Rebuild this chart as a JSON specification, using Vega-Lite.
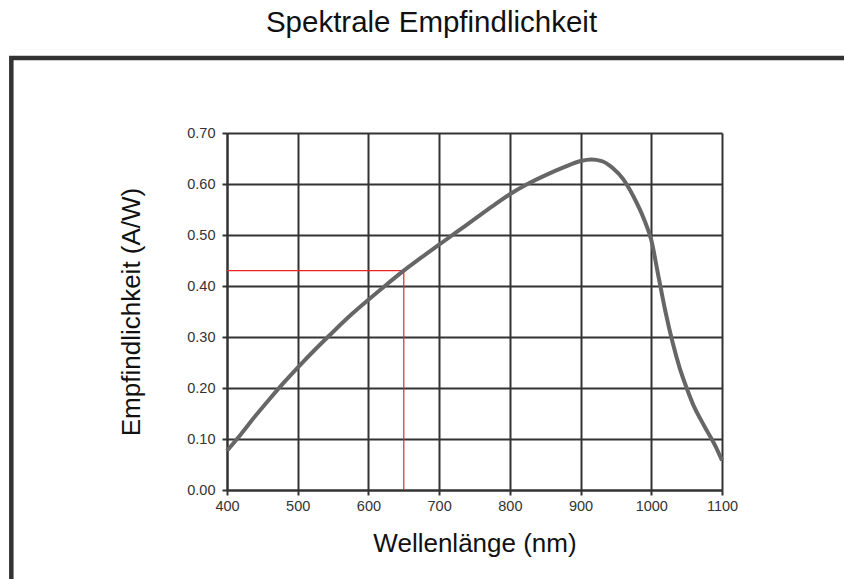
{
  "$schema": "https://vega.github.io/schema/vega-lite/v6.json",
  "width": 495,
  "height": 357,
  "autosize": {"type": "none"},
  "padding": {"left": 227, "top": 133, "right": 122, "bottom": 89},
  "background": "white",
  "title": {
    "text": "Spektrale Empfindlichkeit",
    "font": "Liberation Sans",
    "fontSize": 29.5,
    "fontWeight": "normal",
    "color": "#111111",
    "anchor": "middle",
    "frame": "group",
    "baseline": "alphabetic",
    "offset": -6,
    "dx": -43
  },
  "datasets": {
    "curve": [
      {"wl": 400, "a": 0.077},
      {"wl": 420, "a": 0.11},
      {"wl": 440, "a": 0.145},
      {"wl": 460, "a": 0.178},
      {"wl": 480, "a": 0.21},
      {"wl": 500, "a": 0.24},
      {"wl": 525, "a": 0.276},
      {"wl": 550, "a": 0.31},
      {"wl": 575, "a": 0.343},
      {"wl": 600, "a": 0.373},
      {"wl": 625, "a": 0.402},
      {"wl": 650, "a": 0.43},
      {"wl": 675, "a": 0.456},
      {"wl": 700, "a": 0.481},
      {"wl": 725, "a": 0.506},
      {"wl": 750, "a": 0.531},
      {"wl": 775, "a": 0.556},
      {"wl": 800, "a": 0.58},
      {"wl": 825, "a": 0.6},
      {"wl": 850, "a": 0.617},
      {"wl": 875, "a": 0.632},
      {"wl": 900, "a": 0.645},
      {"wl": 915, "a": 0.648},
      {"wl": 930, "a": 0.645},
      {"wl": 945, "a": 0.632},
      {"wl": 960, "a": 0.61},
      {"wl": 975, "a": 0.575},
      {"wl": 990, "a": 0.53},
      {"wl": 1000, "a": 0.49},
      {"wl": 1010, "a": 0.42},
      {"wl": 1020, "a": 0.35},
      {"wl": 1030, "a": 0.29},
      {"wl": 1040, "a": 0.24},
      {"wl": 1050, "a": 0.2},
      {"wl": 1060, "a": 0.165},
      {"wl": 1070, "a": 0.138},
      {"wl": 1080, "a": 0.113},
      {"wl": 1090, "a": 0.088},
      {"wl": 1100, "a": 0.058}
    ],
    "marker": [
      {"wl": 650, "a": 0.43}
    ],
    "panel": [
      {"name": "Rahmen"}
    ]
  },
  "config": {
    "view": {"stroke": null},
    "axis": {
      "labelFont": "Liberation Sans",
      "labelFontSize": 14.5,
      "labelColor": "#333333",
      "labelFlush": false,
      "titleFont": "Liberation Sans",
      "titleFontSize": 26,
      "titleFontWeight": "normal",
      "titleColor": "#111111",
      "domainColor": "#333333",
      "domainWidth": 2,
      "tickColor": "#333333",
      "tickWidth": 2,
      "tickSize": 5,
      "grid": true,
      "gridColor": "#333333",
      "gridWidth": 2,
      "gridOpacity": 1
    }
  },
  "layer": [
    {
      "data": {"name": "panel"},
      "mark": {"type": "rect", "fillOpacity": 0, "stroke": "#333333", "strokeWidth": 4.5},
      "encoding": {
        "x": {"datum": 95, "type": "quantitative", "scale": {"domain": [400, 1100], "nice": false, "zero": false}},
        "x2": {"datum": 1500},
        "y": {"datum": 0.847, "type": "quantitative", "scale": {"domain": [0, 0.7], "nice": false}},
        "y2": {"datum": -0.5}
      }
    },
    {
      "data": {"name": "marker"},
      "mark": {"type": "rule", "color": "#ee2222", "strokeWidth": 1.2},
      "encoding": {
        "x": {"field": "wl", "type": "quantitative", "scale": {"domain": [400, 1100], "nice": false, "zero": false}},
        "x2": {"datum": 400},
        "y": {"field": "a", "type": "quantitative", "scale": {"domain": [0, 0.7], "nice": false}}
      }
    },
    {
      "data": {"name": "marker"},
      "mark": {"type": "rule", "color": "#ee2222", "strokeWidth": 1.2},
      "encoding": {
        "x": {"field": "wl", "type": "quantitative", "scale": {"domain": [400, 1100], "nice": false, "zero": false}},
        "y": {"field": "a", "type": "quantitative", "scale": {"domain": [0, 0.7], "nice": false}},
        "y2": {"datum": 0}
      }
    },
    {
      "data": {"name": "curve"},
      "mark": {"type": "line", "color": "#666666", "strokeWidth": 4, "interpolate": "monotone"},
      "encoding": {
        "x": {"field": "wl", "type": "quantitative",
              "scale": {"domain": [400, 1100], "nice": false, "zero": false},
              "axis": {"grid": true, "values": [400, 500, 600, 700, 800, 900, 1000, 1100], "format": "d", "title": "Wellenlänge (nm)", "labelPadding": 4, "titlePadding": 18}},
        "y": {"field": "a", "type": "quantitative",
              "scale": {"domain": [0, 0.7], "nice": false},
              "axis": {"grid": true, "values": [0, 0.1, 0.2, 0.3, 0.4, 0.5, 0.6, 0.7], "format": ".2f", "title": "Empfindlichkeit (A/W)", "labelPadding": 7, "titlePadding": 42}}
      }
    }
  ]
}
